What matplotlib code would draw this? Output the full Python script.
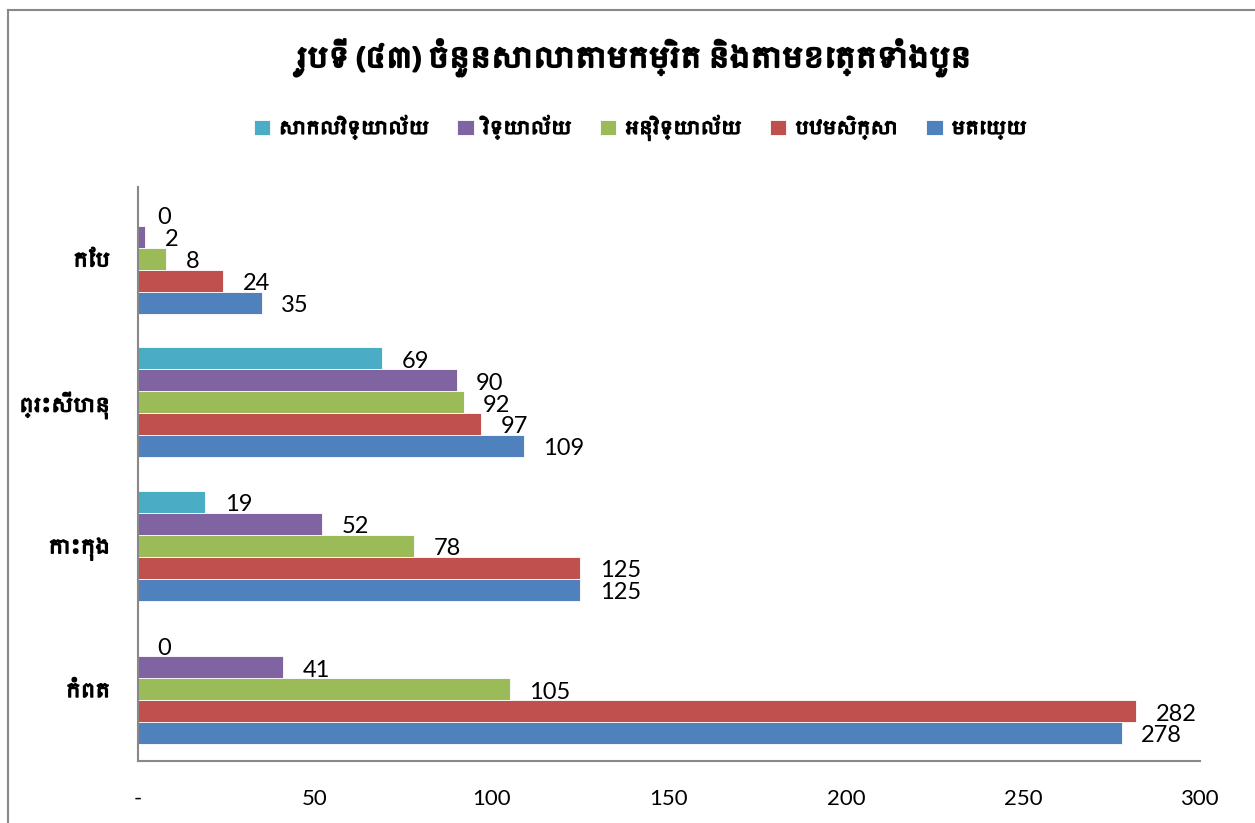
import matplotlib
matplotlib.use("Agg")
import matplotlib.pyplot as plt
from matplotlib import font_manager
from matplotlib import patheffects
from matplotlib.lines import Line2D
import numpy as np

# provinces, bottom to top
provinces = ["កំពត", "កោះកុង", "ព្រះសីហនុ", "កែប"]

# school levels, drawn bottom to top inside each province group
levels = ["មតេយ្យ", "បឋមសិក្សា", "អនុវិទ្យាល័យ", "វិទ្យាល័យ", "សាកលវិទ្យាល័យ"]
colors = ["#4F81BD", "#C0504D", "#9BBB59", "#8064A2", "#4BACC6"]

preschool = [278, 125, 109, 35]
primary = [282, 125, 97, 24]
lower_secondary = [105, 78, 92, 8]
upper_secondary = [41, 52, 90, 2]
university = [0, 19, 69, 0]

x_ticks = [0, 50, 100, 150, 200, 250, 300]
x_tick_labels = ["-", "50", "100", "150", "200", "250", "300"]

title = "រូបទី (៤៣) ចំនួនសាលាតាមកម្រិត និងតាមខេត្តទាំងបួន"

# use a Khmer-capable font if one is installed
khmer = None
for f in font_manager.fontManager.ttflist:
    if "khmer" in f.name.lower() or "khmer" in f.fname.lower():
        khmer = f.name
        break
label_family = [khmer, "DejaVu Sans"] if khmer else ["DejaVu Sans"]
num_family = ["Lato", "DejaVu Sans"]

# fake a heavier weight for the Khmer text
heavy = [patheffects.withStroke(linewidth=1.1, foreground="black")]

fig = plt.figure(figsize=(12.55, 8.23), dpi=100)
ax = fig.add_axes([0.110, 0.0753, 0.846, 0.6975])

series = [preschool, primary, lower_secondary, upper_secondary, university]
y = np.arange(len(provinces))
h = 0.153
for i, (vals, lab, col) in enumerate(zip(series, levels, colors)):
    pos = y + (i - 2) * h
    ax.barh(pos, vals, height=h, color=col, label=lab,
            edgecolor="white", linewidth=0.6)
    for p, v in zip(pos, vals):
        ax.annotate(str(v), (v, p), xytext=(14, -2), textcoords="offset points",
                    ha="left", va="center", fontsize=17, family=num_family)

ax.set_xlim(0, 300)
ax.set_ylim(-0.5, 3.5)
ax.set_xticks(x_ticks)
ax.set_xticklabels(x_tick_labels, family=num_family, fontsize=16)
ax.set_yticks(y)
ax.set_yticklabels(provinces, family=label_family, fontsize=14)
for t in ax.get_yticklabels():
    t.set_path_effects(heavy)
ax.tick_params(axis="x", length=0, pad=20)
ax.tick_params(axis="y", length=0, pad=20)
for s in ["top", "right"]:
    ax.spines[s].set_visible(False)
for s in ["left", "bottom"]:
    ax.spines[s].set_color("#888888")
    ax.spines[s].set_linewidth(1.5)

fig.text(0.505, 0.93, title, ha="center", va="center", fontsize=20,
         family=label_family,
         path_effects=[patheffects.withStroke(linewidth=1.6, foreground="black")])

handles, labs = ax.get_legend_handles_labels()
leg = fig.legend(handles[::-1], labs[::-1], loc="center",
                 bbox_to_anchor=(0.51, 0.845), ncol=5, frameon=False,
                 handlelength=0.9, handleheight=0.9, columnspacing=1.6,
                 handletextpad=0.5, prop={"family": label_family, "size": 13})
for t in leg.get_texts():
    t.set_path_effects(heavy)

# chart area border (left and top edges)
fig.add_artist(Line2D([0.0064, 0.0064], [0, 0.988], transform=fig.transFigure,
                      color="#888888", lw=1.5))
fig.add_artist(Line2D([0.0064, 1], [0.988, 0.988], transform=fig.transFigure,
                      color="#888888", lw=1.5))

fig.savefig("out.png", dpi=100)
